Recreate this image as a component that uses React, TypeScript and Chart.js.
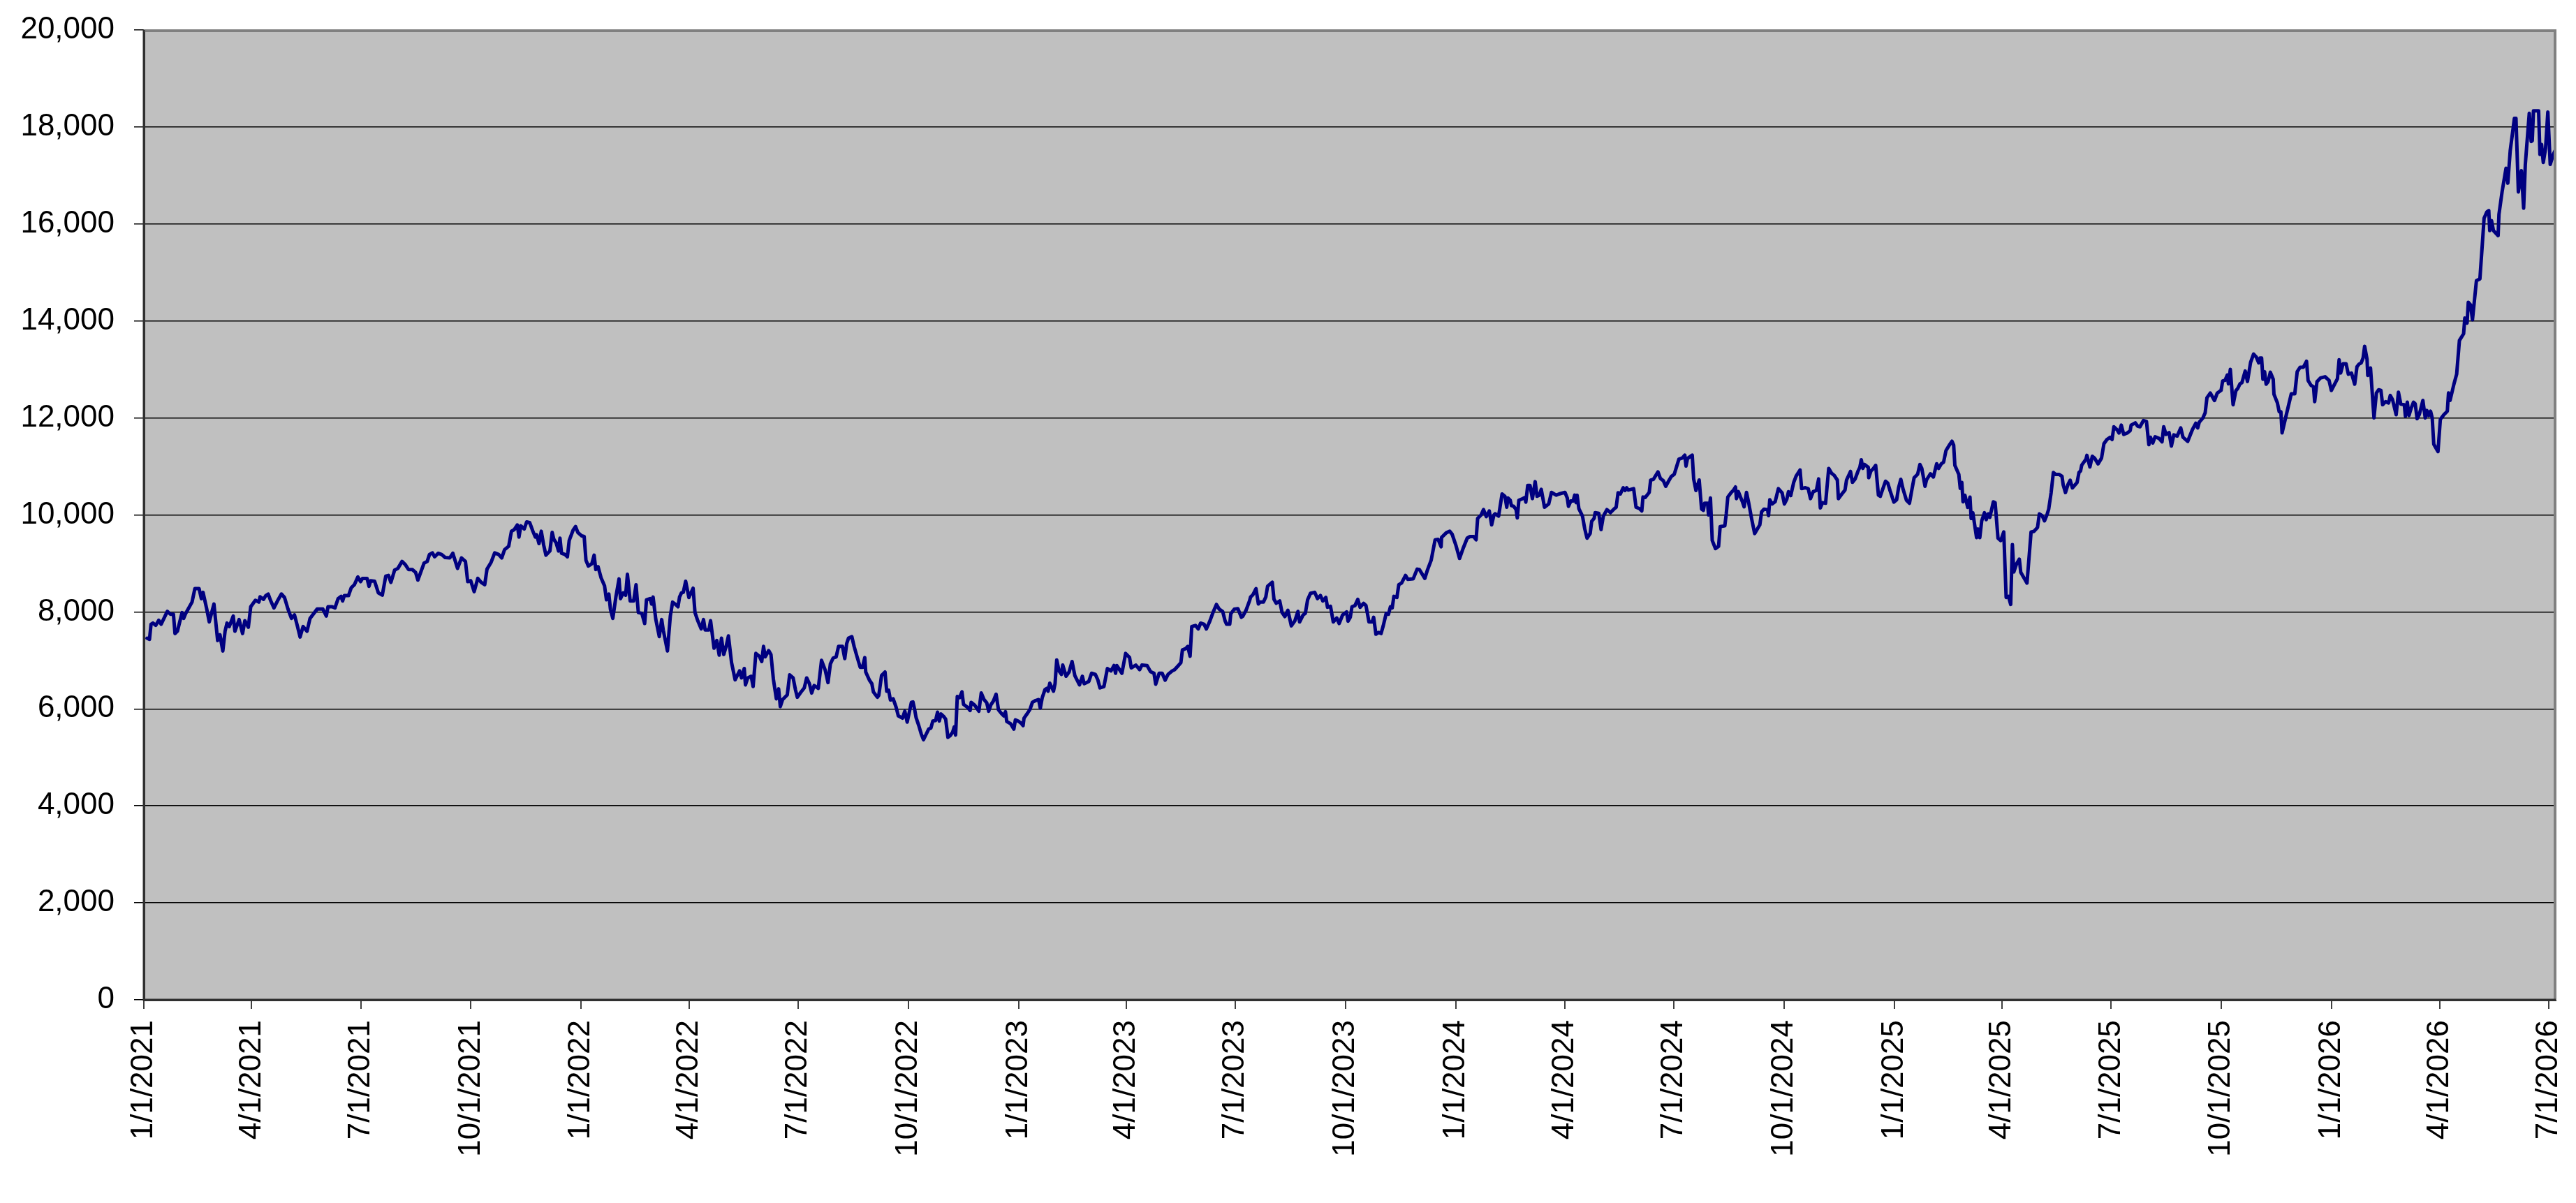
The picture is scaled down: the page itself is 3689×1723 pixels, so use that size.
import { useEffect, useRef } from 'react';
import { Chart, registerables } from 'chart.js';

Chart.register(...registerables);

// x = days since 1/1/2021, y = index value
const BASE_DATE_UTC = Date.UTC(2021, 0, 1);

const xTickLabels = [
  '1/1/2021', '4/1/2021', '7/1/2021', '10/1/2021',
  '1/1/2022', '4/1/2022', '7/1/2022', '10/1/2022',
  '1/1/2023', '4/1/2023', '7/1/2023', '10/1/2023',
  '1/1/2024', '4/1/2024', '7/1/2024', '10/1/2024',
  '1/1/2025', '4/1/2025', '7/1/2025', '10/1/2025',
  '1/1/2026', '4/1/2026', '7/1/2026',
];

const yTickValues = [0, 2000, 4000, 6000, 8000, 10000, 12000, 14000, 16000, 18000, 20000];

const X_MAX_DAY = 2013;

const ptsJan21Sep21: [number, number][] = [
  [2.7, 7458], [4.7, 7434], [6.0, 7746], [7.6, 7770], [9.9, 7722], [12.4, 7827], [14.4, 7746], [19.6, 8010],
  [22.2, 7952], [24.7, 7952], [26.0, 7554], [28.0, 7602], [31.9, 7986], [33.2, 7866], [34.8, 7962], [40.2, 8202],
  [42.6, 8480], [46.1, 8480], [48.0, 8273], [49.4, 8403], [52.3, 8082], [54.6, 7794], [58.5, 8163], [61.6, 7410],
  [63.5, 7530], [65.9, 7194], [67.8, 7602], [69.4, 7770], [71.3, 7698], [74.6, 7914], [76.0, 7602], [79.5, 7842],
  [82.4, 7554], [84.3, 7818], [87.2, 7684], [89.2, 8106], [93.1, 8240], [96.0, 8202], [97.0, 8312], [99.9, 8259],
  [101.8, 8336], [103.8, 8369], [105.7, 8240], [108.6, 8082], [111.5, 8225], [114.8, 8369], [117.4, 8297], [120.3, 8058],
  [123.2, 7866], [125.7, 7938], [128.0, 7722], [130.4, 7482], [132.9, 7698], [136.2, 7602], [138.7, 7866], [144.6, 8058],
  [149.4, 8058], [152.3, 7914], [153.7, 8106], [157.2, 8106], [159.5, 8082], [162.1, 8273], [164.6, 8321], [165.9, 8225],
  [167.3, 8336], [170.8, 8336], [173.1, 8499], [175.7, 8561], [178.6, 8720], [180.9, 8624], [182.5, 8691], [186.3, 8691],
  [187.9, 8528], [189.3, 8643], [192.6, 8633], [195.7, 8393], [199.0, 8345], [201.9, 8739], [204.2, 8753], [206.2, 8609],
  [209.3, 8863], [212.0, 8897], [215.5, 9041], [218.4, 8969], [220.9, 8873], [224.2, 8873], [226.8, 8815], [228.7, 8657],
  [233.9, 9007], [236.5, 9041], [238.4, 9185], [240.8, 9218], [242.7, 9137], [245.6, 9209], [248.5, 9185],
];

const ptsSep21May22: [number, number][] = [
  [251.5, 9122], [255.3, 9113], [257.9, 9209], [261.8, 8897], [265.1, 9113], [268.4, 9041], [270.3, 8624], [272.8, 8643],
  [275.7, 8417], [278.7, 8691], [281.6, 8609], [284.5, 8561], [286.4, 8883], [289.7, 9017], [292.8, 9218], [296.1, 9185],
  [298.7, 9113], [301.0, 9281], [304.5, 9353], [306.8, 9664], [309.2, 9698], [311.7, 9794], [313.1, 9544], [314.6, 9775],
  [317.5, 9712], [319.5, 9856], [322.0, 9842], [324.7, 9664], [326.7, 9544], [327.8, 9592], [329.8, 9410], [331.7, 9664],
  [333.7, 9377], [335.6, 9170], [338.9, 9257], [340.8, 9640], [342.2, 9496], [344.1, 9425], [346.1, 9257], [347.3, 9520],
  [348.6, 9209], [351.5, 9185], [353.5, 9137], [355.0, 9472], [358.3, 9688], [360.3, 9760], [362.2, 9640], [365.5, 9568],
  [367.5, 9554], [369.0, 9065], [371.0, 8945], [373.9, 8993], [375.8, 9170], [377.2, 8873], [379.1, 8931], [381.6, 8705],
  [384.5, 8537], [386.1, 8249], [388.1, 8369], [389.4, 8058], [391.4, 7866], [393.9, 8297], [396.6, 8681], [397.8, 8273],
  [400.1, 8393], [402.1, 8345], [403.6, 8777], [405.9, 8225], [408.8, 8225], [410.8, 8561], [412.7, 7986], [415.6, 7971],
  [418.0, 7760], [419.5, 8249], [422.5, 8273], [423.8, 8163], [425.0, 8307], [427.3, 7842], [430.2, 7492], [432.2, 7842],
  [433.5, 7626], [437.0, 7194], [439.4, 7914], [441.3, 8202], [443.8, 8154], [445.8, 8106], [447.1, 8307], [448.7, 8393],
  [450.2, 8403], [452.2, 8633], [454.9, 8297], [458.4, 8489], [460.0, 7986], [462.3, 7818], [465.2, 7650], [467.1, 7842],
  [468.5, 7626], [471.6, 7626], [473.0, 7818], [475.9, 7252], [478.2, 7410], [480.2, 7108], [482.1, 7458], [484.0, 7122],
  [486.0, 7290], [487.9, 7506], [490.5, 6954], [493.5, 6600],
];

const ptsMay22Jan23: [number, number][] = [
  [497.2, 6784], [498.8, 6639], [501.1, 6832], [502.1, 6495], [504.0, 6639], [506.9, 6673], [508.5, 6461], [510.8, 7144],
  [513.7, 7086], [515.7, 6976], [517.2, 7288], [518.6, 7072], [521.5, 7202], [523.4, 7120], [525.4, 6615], [527.9, 6207],
  [529.8, 6413], [531.2, 6048], [533.1, 6192], [537.0, 6288], [539.0, 6702], [541.9, 6639], [543.8, 6399], [545.4, 6240],
  [548.1, 6336], [551.2, 6433], [553.2, 6639], [555.5, 6519], [557.4, 6327], [559.4, 6481], [562.9, 6423], [565.6, 7000],
  [568.7, 6798], [571.0, 6543], [573.0, 6928], [575.3, 7048], [577.8, 7072], [579.8, 7288], [583.1, 7288], [585.0, 7038],
  [586.6, 7346], [588.1, 7457], [590.9, 7490], [592.8, 7288], [595.3, 7072], [597.9, 6856], [599.8, 6856], [601.7, 7058],
  [602.5, 6760], [605.6, 6591], [607.6, 6519], [608.9, 6351], [612.2, 6240], [613.4, 6279], [615.7, 6687], [618.6, 6760],
  [620.0, 6365], [621.6, 6385], [623.1, 6183], [625.4, 6207], [627.8, 6038], [629.7, 5856], [633.2, 5808], [635.1, 5952],
  [637.1, 5726], [640.6, 6135], [641.9, 6144], [643.3, 5990], [644.5, 5822], [646.8, 5654], [648.8, 5485], [650.7, 5365],
  [652.6, 5461], [655.0, 5582], [656.9, 5606], [658.5, 5750], [660.8, 5760], [662.4, 5933], [663.9, 5750], [665.3, 5894],
  [667.8, 5836], [669.2, 5788], [671.1, 5413], [673.1, 5451], [675.0, 5519], [676.4, 5630], [677.5, 5461], [678.9, 6255],
  [680.8, 6231], [682.8, 6351], [684.1, 6096], [687.2, 6038], [689.6, 5966], [690.5, 6135], [693.4, 6077], [696.9, 5952],
  [698.9, 6327], [701.2, 6192], [703.5, 6125], [705.1, 5952], [707.0, 6087], [709.0, 6159], [711.3, 6303], [713.3, 5981],
  [715.8, 5904], [717.7, 5856], [719.1, 5942], [720.2, 5740], [723.5, 5692], [726.1, 5582], [727.4, 5774], [730.3, 5740],
  [732.3, 5702], [733.8, 5654], [734.6, 5808], [737.7, 5918], [739.6, 5990], [741.6, 6135], [744.3, 6173], [746.8, 6192],
  [748.2, 6014], [749.8, 6231], [752.1, 6399], [753.7, 6423],
];

const ptsJan23Sep23: [number, number][] = [
  [754.7, 6365], [756.1, 6529], [759.2, 6365], [760.5, 6519], [761.9, 7009], [763.8, 6784], [765.8, 6712], [766.9, 6904],
  [769.7, 6673], [772.2, 6760], [774.7, 6976], [777.0, 6687], [780.9, 6495], [783.3, 6673], [784.8, 6519], [788.7, 6567],
  [791.0, 6735], [794.1, 6712], [796.1, 6606], [798.0, 6433], [801.3, 6461], [804.2, 6832], [807.2, 6784], [809.7, 6894],
  [811.0, 6735], [812.0, 6894], [816.3, 6735], [819.4, 7144], [822.7, 7058], [824.1, 6846], [827.9, 6904], [831.1, 6808],
  [833.0, 6904], [837.3, 6894], [840.2, 6769], [843.1, 6735], [844.5, 6509], [847.4, 6735], [849.9, 6735], [852.4, 6591],
  [854.8, 6712], [858.3, 6784], [860.2, 6808], [862.9, 6880], [865.5, 6952], [866.8, 7216], [869.3, 7240], [871.3, 7288],
  [873.2, 7086], [874.6, 7697], [877.7, 7721], [880.0, 7649], [882.0, 7769], [884.9, 7745], [886.8, 7649], [889.4, 7793],
  [892.7, 8010], [895.2, 8154], [897.5, 8058], [900.4, 8010], [902.4, 7817], [903.7, 7745], [906.3, 7745], [907.2, 7962],
  [910.1, 8058], [913.1, 8067], [916.0, 7889], [917.3, 7913], [919.9, 8034], [922.8, 8226], [923.7, 8308], [925.7, 8356],
  [928.2, 8481], [930.2, 8163], [931.5, 8202], [934.4, 8202], [936.4, 8308], [937.9, 8529], [941.8, 8611], [943.2, 8260],
  [945.1, 8178], [948.0, 8226], [950.0, 7986], [952.3, 7904], [954.8, 8034], [957.7, 7712], [960.7, 7817], [963.2, 8010],
  [964.6, 7793], [967.5, 7937], [969.4, 7971], [971.3, 8250], [973.7, 8384], [977.2, 8404], [979.5, 8274], [982.0, 8337],
  [984.0, 8226], [986.5, 8298], [987.9, 8096], [990.4, 8115], [992.7, 7793], [995.6, 7875], [997.6, 7760], [1000.5, 7937],
];

const ptsSep23Jun24: [number, number][] = [
  [1003.8, 8000], [1005.0, 7808], [1006.9, 7890], [1008.3, 8106], [1010.8, 8130], [1013.2, 8259], [1015.1, 8096], [1018.0, 8178],
  [1020.0, 8130], [1022.5, 7794], [1025.2, 7794], [1026.4, 7890], [1028.3, 7540], [1030.6, 7578], [1032.6, 7554], [1034.5, 7722],
  [1036.9, 7971], [1038.8, 7952], [1040.4, 8106], [1041.9, 8082], [1043.3, 8321], [1045.8, 8297], [1047.4, 8561], [1049.7, 8595],
  [1053.0, 8753], [1054.9, 8672], [1059.4, 8681], [1062.7, 8883], [1064.6, 8873], [1069.1, 8691], [1071.1, 8849], [1074.4, 9065],
  [1077.7, 9487], [1080.2, 9497], [1082.7, 9343], [1083.1, 9535], [1087.0, 9631], [1089.9, 9664], [1091.9, 9602], [1095.2, 9362],
  [1098.1, 9103], [1101.0, 9305], [1104.5, 9521], [1106.8, 9554], [1109.9, 9554], [1111.9, 9487], [1113.2, 9928], [1116.1, 10000],
  [1118.1, 10110], [1120.4, 9966], [1122.9, 10082], [1124.9, 9794], [1126.8, 10000], [1127.8, 10024], [1130.7, 9976], [1133.6, 10432],
  [1136.0, 10384], [1137.5, 10158], [1138.5, 10350], [1140.4, 10302], [1141.4, 10192], [1143.3, 10177], [1145.3, 10110], [1146.3, 9938],
  [1147.6, 10302], [1150.7, 10336], [1152.7, 10360], [1153.4, 10264], [1155.0, 10609], [1156.9, 10609], [1158.9, 10336], [1161.2, 10686],
  [1162.8, 10384], [1164.7, 10408], [1166.3, 10528], [1169.0, 10158], [1172.5, 10225], [1174.8, 10465], [1178.7, 10408], [1181.2, 10432],
  [1186.1, 10465], [1188.0, 10350], [1189.0, 10177], [1191.0, 10288], [1192.9, 10288], [1194.2, 10408], [1195.4, 10254], [1196.2, 10408],
  [1197.7, 10129], [1200.7, 9976], [1202.6, 9712], [1204.5, 9521], [1207.1, 9616], [1208.4, 9870], [1210.4, 9928], [1211.3, 10048],
  [1214.3, 10034], [1216.2, 9698], [1218.1, 9976], [1221.1, 10110], [1224.0, 10048], [1226.9, 10120], [1228.8, 10158], [1230.4, 10456],
  [1232.3, 10432], [1234.7, 10561], [1236.2, 10504], [1237.6, 10561], [1238.9, 10513], [1243.4, 10542], [1245.4, 10158], [1248.3, 10129],
  [1250.2, 10082], [1251.2, 10369], [1253.1, 10360], [1256.4, 10465], [1257.6, 10719],
];

const ptsJun24Feb25: [number, number][] = [
  [1259.9, 10734], [1263.7, 10887], [1265.7, 10753], [1268.2, 10705], [1270.2, 10590], [1272.5, 10695], [1274.8, 10791], [1277.3, 10839],
  [1281.2, 11151], [1284.1, 11175], [1286.1, 11233], [1287.1, 11007], [1288.4, 11165], [1292.3, 11233], [1293.5, 10743], [1295.4, 10504],
  [1298.1, 10720], [1300.1, 10120], [1301.6, 10096], [1302.6, 10240], [1305.1, 10240], [1305.9, 10000], [1307.5, 10350], [1309.0, 9473],
  [1311.7, 9305], [1314.3, 9353], [1315.6, 9760], [1319.5, 9775], [1320.7, 10024], [1322.0, 10369], [1324.9, 10465], [1326.5, 10504],
  [1328.4, 10576], [1329.2, 10336], [1330.8, 10480], [1332.7, 10360], [1334.3, 10264], [1335.6, 10168], [1337.6, 10465], [1339.5, 10240],
  [1342.0, 9904], [1344.4, 9616], [1346.7, 9712], [1348.7, 9794], [1350.2, 10062], [1352.2, 10120], [1355.1, 10110], [1356.0, 9986],
  [1357.0, 10312], [1359.0, 10225], [1361.5, 10273], [1364.2, 10542], [1367.3, 10456], [1369.2, 10225], [1371.2, 10321], [1372.6, 10480],
  [1374.5, 10398], [1377.0, 10672], [1379.0, 10801], [1382.3, 10926], [1383.6, 10542], [1386.7, 10561], [1389.1, 10542], [1391.0, 10336],
  [1393.3, 10480], [1395.9, 10504], [1397.8, 10743], [1399.2, 10144], [1401.1, 10254], [1403.6, 10240], [1406.2, 10959], [1408.5, 10863],
  [1410.8, 10815], [1413.4, 10720], [1414.3, 10336], [1417.2, 10432], [1419.8, 10513], [1421.1, 10720], [1424.4, 10897], [1426.0, 10672],
  [1428.3, 10743], [1430.8, 10911], [1432.2, 10983], [1433.4, 11137], [1434.7, 10959], [1436.1, 11041], [1439.2, 10983], [1439.6, 10767],
  [1441.5, 10911], [1443.1, 10945], [1445.4, 11022], [1447.7, 10408], [1449.3, 10384], [1450.9, 10504], [1453.6, 10695], [1455.5, 10657],
  [1457.5, 10494], [1460.6, 10264], [1462.9, 10312], [1464.5, 10561], [1466.4, 10734], [1468.3, 10528], [1471.1, 10302], [1473.6, 10240],
  [1475.5, 10504], [1477.5, 10767], [1480.4, 10839], [1482.3, 11041], [1483.9, 10959], [1486.6, 10590], [1487.8, 10720], [1491.1, 10849],
  [1493.6, 10782], [1496.3, 11055], [1497.9, 10959], [1500.2, 11055], [1502.1, 11089], [1504.1, 11329], [1507.2, 11453], [1509.1, 11520],
  [1510.5, 11439], [1511.5, 11022],
];

const ptsFeb25Oct25: [number, number][] = [
  [1514.8, 10836], [1516.0, 10549], [1517.3, 10669], [1518.3, 10271], [1519.9, 10405], [1522.2, 10156], [1524.1, 10367], [1525.1, 9926],
  [1526.5, 10046], [1529.6, 9533], [1530.9, 9710], [1532.3, 9533], [1533.9, 9878], [1536.2, 10046], [1537.7, 9902], [1539.3, 10022],
  [1540.7, 9950], [1543.6, 10271], [1545.1, 10252], [1547.5, 9519], [1549.8, 9471], [1552.3, 9648], [1554.3, 8297], [1556.2, 8321],
  [1558.1, 8154], [1559.5, 9389], [1560.7, 8824], [1563.0, 8992], [1565.3, 9088], [1566.5, 8815], [1568.8, 8719], [1571.7, 8594],
  [1575.1, 9648], [1577.6, 9662], [1580.5, 9744], [1582.0, 10022], [1584.4, 9983], [1586.3, 9878], [1588.3, 9998], [1589.8, 10118],
  [1591.8, 10453], [1593.7, 10874], [1595.6, 10836], [1598.4, 10836], [1600.9, 10798], [1601.9, 10620], [1603.8, 10462], [1605.8, 10620],
  [1607.7, 10716], [1609.6, 10558], [1613.5, 10669], [1615.1, 10874], [1616.4, 10908], [1617.4, 11028], [1620.9, 11147], [1621.7, 11229],
  [1624.2, 10989], [1626.2, 11210], [1628.1, 11172], [1631.0, 11052], [1633.9, 11172], [1635.9, 11468], [1638.4, 11555], [1641.1, 11602],
  [1642.7, 11555], [1644.2, 11818], [1646.9, 11756], [1648.5, 11689], [1650.4, 11852], [1652.4, 11660], [1655.3, 11689], [1657.8, 11737],
  [1658.6, 11852], [1662.1, 11899], [1664.0, 11832], [1666.0, 11818], [1668.9, 11947], [1671.4, 11928], [1673.4, 11449], [1674.7, 11602],
  [1676.7, 11483], [1678.6, 11612], [1681.9, 11579], [1684.4, 11507], [1685.8, 11818], [1687.7, 11660], [1690.3, 11698], [1692.2, 11420],
  [1694.2, 11650], [1697.1, 11627], [1700.0, 11794], [1701.9, 11602], [1705.8, 11516], [1709.7, 11756], [1712.6, 11890], [1714.2, 11794],
  [1715.5, 11914], [1718.4, 11995], [1720.4, 12105], [1721.9, 12417], [1724.7, 12513], [1728.2, 12359], [1730.5, 12513], [1733.7, 12570],
  [1735.0, 12762], [1737.0, 12777], [1738.9, 12886], [1739.8, 12704], [1741.4, 13001], [1743.7, 12273], [1746.0, 12560], [1747.6, 12608],
  [1749.5, 12704], [1751.1, 12728], [1753.8, 12968], [1755.7, 12752], [1758.3, 13145], [1760.8, 13317], [1763.1, 13255], [1765.1, 13135],
];

const ptsOct25Jul26: [number, number][] = [
  [1766.1, 13236], [1767.5, 13236], [1768.6, 12798], [1770.0, 12953], [1771.3, 12696], [1772.9, 12747], [1774.8, 12943], [1777.2, 12798],
  [1777.8, 12490], [1780.7, 12309], [1782.2, 12129], [1783.6, 12129], [1784.6, 11691], [1787.5, 12000], [1792.3, 12500], [1795.2, 12500],
  [1797.2, 12953], [1799.7, 13046], [1802.4, 13046], [1805.0, 13169], [1806.3, 12773], [1808.8, 12670], [1810.8, 12644], [1811.8, 12335],
  [1813.7, 12747], [1816.6, 12824], [1820.5, 12850], [1823.8, 12773], [1825.7, 12567], [1830.8, 12809], [1832.2, 13200], [1833.5, 12927],
  [1835.5, 13118], [1838.0, 13118], [1839.9, 12902], [1842.5, 12927], [1845.2, 12696], [1847.1, 13056], [1848.7, 13108], [1850.6, 13133],
  [1852.2, 13236], [1853.5, 13478], [1855.5, 13210], [1856.1, 12876], [1858.4, 13030], [1861.3, 12000], [1863.3, 12515], [1865.2, 12582],
  [1867.1, 12567], [1868.5, 12273], [1871.0, 12335], [1873.5, 12309], [1874.9, 12464], [1876.8, 12376], [1879.8, 12067], [1881.7, 12531],
  [1883.7, 12284], [1886.6, 12273], [1887.5, 12036], [1889.1, 12325], [1890.5, 12052], [1892.4, 12206], [1894.3, 12325], [1895.7, 12293],
  [1897.3, 11985], [1899.2, 12077], [1902.1, 12361], [1904.1, 12000], [1905.4, 12155], [1907.0, 12052], [1908.5, 12139], [1909.9, 12000],
  [1911.2, 11459], [1914.7, 11305], [1916.7, 11974], [1919.6, 12067], [1922.5, 12139], [1923.5, 12515], [1924.8, 12361], [1928.0, 12696],
  [1930.3, 12902], [1932.6, 13597], [1936.1, 13736], [1937.1, 14060], [1939.0, 13957], [1940.0, 14385], [1941.9, 14333], [1943.5, 14024],
  [1946.8, 14832], [1949.7, 14868], [1951.7, 15579], [1953.2, 16120], [1955.5, 16249], [1957.1, 16275], [1957.9, 15863], [1959.4, 16069],
  [1961.0, 15863], [1964.9, 15760], [1965.6, 16198], [1968.2, 16661], [1971.5, 17150], [1973.0, 16841], [1974.0, 17176], [1975.0, 17511],
  [1978.5, 18180], [1979.8, 18180], [1981.8, 16661], [1984.3, 17099], [1986.2, 16326], [1987.6, 17228], [1990.9, 18283], [1992.5, 17701],
  [1993.4, 17717], [1994.4, 18335], [1998.7, 18335], [1999.8, 17434], [2001.2, 17640], [2002.6, 17269], [2004.5, 17562], [2006.4, 18309],
  [2008.4, 17228], [2010.9, 17434], [2012.9, 17537],
];

const allSegments = [
  ptsJan21Sep21, ptsSep21May22, ptsMay22Jan23, ptsJan23Sep23,
  ptsSep23Jun24, ptsJun24Feb25, ptsFeb25Oct25, ptsOct25Jul26,
];

function labelToDay(label: string): number {
  const [m, d, y] = label.split('/').map(Number);
  return Math.round((Date.UTC(y, m - 1, d) - BASE_DATE_UTC) / 86400000);
}

const FONT = "'Liberation Sans', Arial, Helvetica, sans-serif";

export default function App() {
  const canvasRef = useRef<HTMLCanvasElement | null>(null);

  useEffect(() => {
    document.body.style.margin = '0';
    document.body.style.overflow = 'hidden';
    const canvas = canvasRef.current;
    if (!canvas) return;

    const tickDays = xTickLabels.map(labelToDay);
    const dayToLabel = new Map<number, string>();
    tickDays.forEach((d, i) => dayToLabel.set(d, xTickLabels[i]));

    const data = allSegments.flat().map(([x, y]) => ({ x, y }));

    const plotFrame = {
      id: 'plotFrame',
      beforeDraw(chart: any) {
        const { ctx, chartArea } = chart;
        ctx.save();
        ctx.fillStyle = '#C0C0C0';
        ctx.fillRect(chartArea.left, chartArea.top, chartArea.right - chartArea.left, chartArea.bottom - chartArea.top);
        ctx.restore();
      },
      afterDraw(chart: any) {
        const { ctx, chartArea } = chart;
        ctx.save();
        ctx.strokeStyle = '#808080';
        ctx.lineWidth = 4;
        ctx.beginPath();
        ctx.moveTo(chartArea.left, chartArea.top + 1);
        ctx.lineTo(chartArea.right - 1, chartArea.top + 1);
        ctx.lineTo(chartArea.right - 1, chartArea.bottom);
        ctx.stroke();
        ctx.strokeStyle = '#303030';
        ctx.lineWidth = 3;
        ctx.beginPath();
        ctx.moveTo(chartArea.left, chartArea.top);
        ctx.lineTo(chartArea.left, chartArea.bottom);
        ctx.lineTo(chartArea.right, chartArea.bottom);
        ctx.stroke();
        ctx.restore();
      },
    };

    const chart = new Chart(canvas, {
      type: 'line',
      data: {
        datasets: [
          {
            data,
            borderColor: '#000080',
            borderWidth: 5,
            pointRadius: 0,
            tension: 0,
            borderJoinStyle: 'round',
            borderCapStyle: 'round',
            fill: false,
          } as any,
        ],
      },
      options: {
        animation: false,
        responsive: false,
        devicePixelRatio: 1,
        events: [],
        layout: { padding: { top: 43, right: 29, left: 0, bottom: 0 } },
        plugins: { legend: { display: false }, tooltip: { enabled: false }, title: { display: false } },
        scales: {
          x: {
            type: 'linear',
            min: 0,
            max: X_MAX_DAY,
            afterBuildTicks: (scale: any) => {
              scale.ticks = tickDays.map((v) => ({ value: v }));
            },
            afterFit: (scale: any) => {
              scale.height = 291;
              scale.paddingLeft = 0;
              scale.paddingRight = 0;
            },
            ticks: {
              autoSkip: false,
              minRotation: 90,
              maxRotation: 90,
              padding: 16,
              color: '#000000',
              font: { family: FONT, size: 44 },
              callback: (v: any) => dayToLabel.get(Math.round(Number(v))) ?? '',
            },
            grid: {
              drawOnChartArea: false,
              drawTicks: true,
              tickLength: 13,
              color: '#404040',
              lineWidth: 2,
            },
            border: { display: true, color: '#303030', width: 3 },
          },
          y: {
            type: 'linear',
            min: 0,
            max: 20000,
            afterBuildTicks: (scale: any) => {
              scale.ticks = yTickValues.map((v) => ({ value: v }));
            },
            afterFit: (scale: any) => {
              scale.width = 206;
              scale.paddingTop = 0;
              scale.paddingBottom = 0;
            },
            ticks: {
              padding: 28,
              color: '#000000',
              font: { family: FONT, size: 44 },
              callback: (v: any) => Number(v).toLocaleString('en-US'),
            },
            grid: {
              drawTicks: true,
              tickLength: 14,
              color: '#000000',
              lineWidth: 1.5,
            },
            border: { display: true, color: '#303030', width: 3 },
          },
        },
      } as any,
      plugins: [plotFrame],
    });

    return () => {
      chart.destroy();
    };
  }, []);

  return (
    <div style={{ width: 3689, height: 1723, background: '#ffffff' }}>
      <canvas ref={canvasRef} width={3689} height={1723} style={{ width: 3689, height: 1723, display: 'block' }} />
    </div>
  );
}
